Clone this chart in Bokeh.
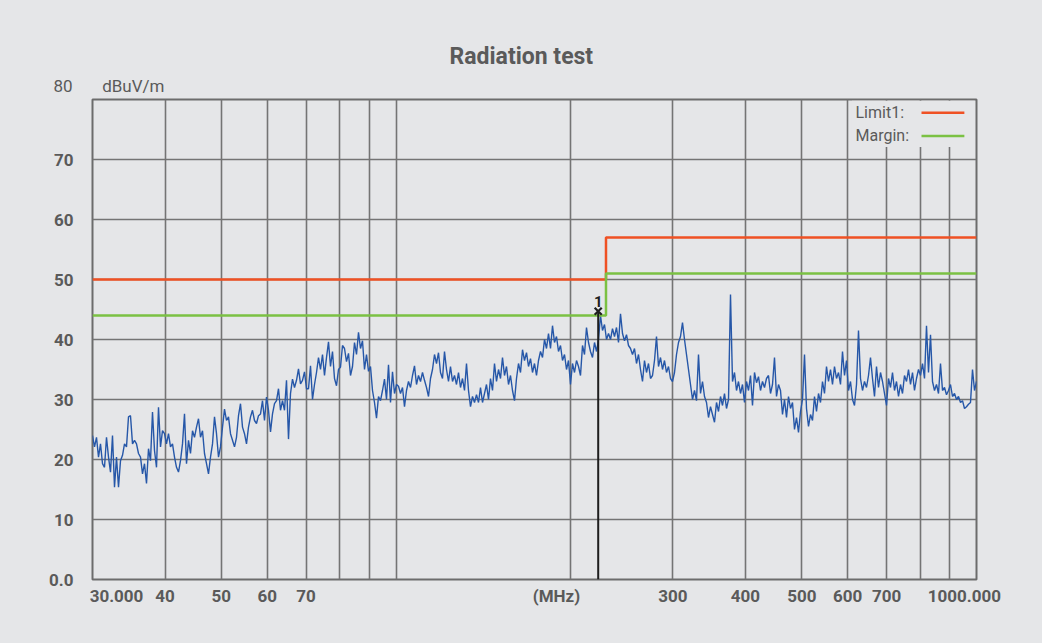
import numpy as np
from bokeh.plotting import figure
from bokeh.models import Range1d, FixedTicker, Label, BoxAnnotation, GlobalInlineStyleSheet, Title
from bokeh.core.properties import value
from bokeh.embed import file_html
from bokeh.resources import INLINE

# ---------------- data ----------------
# measured level, dBuV/m, sweep 30 MHz .. 1000 MHz (log-spaced points)
level_30_100 = [
    24.0, 22.1, 23.7, 20.4, 22.6, 19.3, 18.7, 23.7, 20.4, 17.9, 24.0, 15.4, 20.4, 15.4, 19.8, 20.7, 22.6, 22.1,
    27.1, 27.3, 22.6, 23.2, 22.6, 21.0, 20.4, 17.6, 19.3, 16.0, 21.8, 19.8, 27.9, 21.5, 18.7, 28.7, 22.1, 24.8,
    24.3, 22.6, 24.3, 22.1, 22.6, 20.4, 18.7, 17.9, 19.8, 22.6, 27.6, 19.3, 23.2, 21.0, 24.8, 23.7, 25.4, 26.8,
    23.7, 24.8, 21.0, 19.3, 17.6, 20.4, 22.6, 27.1, 24.3, 20.4,
    22.1, 25.4, 28.4, 26.5, 27.1, 24.3, 23.2, 22.1, 23.7, 27.3, 29.3, 25.4, 24.3, 22.6, 25.4, 27.1, 28.2, 26.5,
    26.0, 27.3, 27.6, 29.8, 26.5, 30.4,
    28.2, 24.6, 27.6, 29.3, 29.8, 31.8, 28.2, 29.8, 28.2, 33.2, 23.4, 31.0, 33.4, 32.0, 33.2, 35.1, 32.6, 33.2,
    34.6, 31.8,
    31.8, 35.6, 30.0, 32.5, 34.5, 37.0, 35.0, 37.5, 34.0, 37.0, 39.6, 35.5, 38.0, 33.5, 32.3, 35.0,
    35.4, 39.0, 38.5, 36.3, 37.7, 34.0, 35.5, 39.5, 37.5, 41.2, 38.5, 39.8, 35.0, 37.5, 34.7,
    35.5, 31.5, 29.5, 26.9, 30.5, 29.8, 31.5, 33.4, 30.0, 35.8, 29.5, 34.6, 31.0, 32.5,
]
level_100_300 = [
    32.2, 31.0, 32.0, 28.8, 31.5, 33.0, 32.0, 34.0, 35.6, 32.5, 34.0, 33.0, 34.5, 33.2, 32.0, 30.5, 33.5, 35.0,
    37.5, 36.0, 37.8, 34.5, 33.5, 38.0, 35.0, 33.0, 35.5, 33.0, 34.0, 32.5, 34.5, 32.0, 33.5, 31.5, 36.0, 31.5,
    28.8, 30.5, 29.5, 30.8, 29.5, 32.0, 29.5, 31.0, 32.5, 30.0, 33.5, 31.5, 36.0, 33.0, 35.0, 33.5, 37.0, 34.0,
    35.5, 32.5, 34.0, 31.5, 29.8, 33.5, 36.0, 34.5, 38.3, 36.5, 37.8, 35.5, 36.8, 34.5, 36.0, 34.0,
    36.5, 38.0, 37.0, 40.0, 38.5, 41.0, 38.5, 42.3, 39.5, 40.5, 38.0, 39.0, 36.5, 37.5, 35.0, 36.5, 32.5,
    36.0, 34.5, 36.5, 35.5, 34.0, 39.0, 37.5, 42.0, 39.5, 38.0, 37.0, 39.5, 38.0, 40.0, 44.0, 41.5, 42.5, 40.0,
    41.0, 40.0, 41.8, 40.5, 42.0, 39.5, 44.3, 41.0, 39.8, 40.8, 39.0, 38.5, 37.5, 38.5, 36.0, 37.5, 35.0, 33.0,
    36.5, 34.5, 36.0, 33.5, 34.0, 36.5, 40.5, 35.5, 37.0, 35.0, 36.5, 34.5, 35.5, 33.5, 33.0,
]
level_300_1000 = [
    34.5, 37.5, 39.5, 40.5, 42.8, 40.0, 37.5, 35.0, 32.5, 30.0, 31.5, 29.8, 37.5, 31.0, 33.0, 30.5, 29.5, 27.0,
    28.8, 27.5, 26.2, 29.5, 28.0, 30.5, 29.0, 31.0, 28.5, 30.0, 47.5, 33.0, 34.5, 31.5, 33.0, 31.0, 32.5, 29.5,
    33.0, 31.5, 34.0, 29.0, 34.5, 32.8, 33.8, 31.5, 33.0, 32.0, 33.5, 34.0, 31.0, 32.5, 37.0, 30.5, 32.5, 31.5,
    27.5, 30.0, 27.0, 30.5, 28.5, 29.5, 25.0, 27.0, 24.5, 28.0,
    30.0, 37.5, 28.5, 25.5, 27.5, 26.5, 30.5, 28.0, 31.0, 29.5, 33.0, 31.0, 35.5, 33.0, 35.0, 32.5, 35.5, 33.5,
    34.5, 32.5, 38.0, 34.0, 36.5,
    31.5, 33.0, 30.0, 29.0, 32.5, 41.5, 33.5, 31.5, 33.0, 32.0, 34.0, 37.0, 33.5, 30.5, 35.5, 32.0, 34.5, 33.0,
    31.0,
    29.0, 33.5, 32.0, 34.5, 31.5, 33.0, 30.5, 32.5, 31.0, 34.0, 33.0, 35.0, 32.5, 34.5, 31.5, 33.5, 35.0,
    34.0, 36.0, 33.5, 42.3, 34.5, 40.8, 33.0, 31.5, 32.5, 31.0, 36.0, 31.5, 32.0, 30.8, 31.5,
    32.5, 30.5, 31.0, 30.0, 30.5, 29.5, 29.8, 28.5, 28.8, 29.2, 29.5, 35.0, 31.5, 33.0,
]
level = level_30_100 + level_100_300 + level_300_1000
freq_start, freq_stop = 30, 1000
freq = np.geomspace(freq_start, freq_stop, len(level))

limit_freq = [30, 230, 230, 1000]
limit_level = [50, 50, 57, 57]
margin_freq = [30, 230, 230, 1000]
margin_level = [44, 44, 51, 51]

marker_freq = 223
marker_level = 44.7
marker_name = "1"

y_ticks = [0, 10, 20, 30, 40, 50, 60, 70]
y_tick_labels = ["0.0", "10", "20", "30", "40", "50", "60", "70"]
y_top_label = "80"
y_unit = "dBuV/m"
x_tick_pos = [33, 40, 50, 60, 70, 189, 300, 400, 500, 600, 700, 953]
x_tick_labels = ["30.000", "40", "50", "60", "70", "(MHz)", "300", "400", "500", "600", "700", "1000.000"]
x_grid = [40, 50, 60, 70, 80, 90, 100, 200, 300, 400, 500, 600, 700, 800, 900]
y_grid = [10, 20, 30, 40, 50, 60, 70]

# ---------------- style ----------------
BG = "#e5e6e8"
GRID = "#747474"
TXT = "#5a5a5a"
BLUE = "#2657a8"
RED = "#ef5124"
GREEN = "#7bc143"
FONT = "Roboto"

p = figure(width=1042, height=643, x_axis_type="log", title=None,
           x_range=Range1d(freq_start, freq_stop), y_range=Range1d(0, 80),
           output_backend="svg", toolbar_location=None,
           min_border_left=92, min_border_right=66, min_border_top=99, min_border_bottom=64,
           background_fill_color=BG, border_fill_color=BG)
p.stylesheets = [GlobalInlineStyleSheet(css="html, body { background: #e5e6e8; }")]

p.outline_line_color = "#6c6c6c"
p.outline_line_width = 2

unit_title = Title(text=y_top_label + "\u00a0" * 7 + y_unit, align="left", offset=-39, standoff=8,
                   text_font=FONT, text_font_size="17px", text_font_style="normal", text_color=TXT)
main_title = Title(text="Radiation test", align="left", offset=357, standoff=-1,
                   text_font=FONT, text_font_size="23px", text_font_style="bold", text_color=TXT)
p.add_layout(unit_title, "above")
p.add_layout(main_title, "above")

for ax in (p.xaxis, p.yaxis):
    ax.axis_line_color = None
    ax.major_tick_line_color = None
    ax.minor_tick_line_color = None
    ax.major_tick_out = 0
    ax.major_tick_in = 0
    ax.major_label_text_font = FONT
    ax.major_label_text_font_size = "17px"
    ax.major_label_text_font_style = "bold"
    ax.major_label_text_color = TXT

p.xaxis.ticker = FixedTicker(ticks=x_tick_pos)
p.xaxis.major_label_overrides = dict(zip(x_tick_pos, x_tick_labels))
p.xaxis.major_label_standoff = 6
p.yaxis.ticker = FixedTicker(ticks=y_ticks)
p.yaxis.major_label_overrides = dict(zip(y_ticks, y_tick_labels))
p.yaxis.major_label_standoff = 19

p.xgrid.ticker = FixedTicker(ticks=x_grid)
p.ygrid.ticker = FixedTicker(ticks=y_grid)
for g in (p.xgrid, p.ygrid):
    g.grid_line_color = GRID
    g.grid_line_width = 1.6

# legend background hiding the grid
p.add_layout(BoxAnnotation(left=610, right=993, bottom=72.1, top=79.8, fill_color=BG, fill_alpha=1,
                           line_color=None, level="underlay"))

# data
p.line(freq, level, line_color=BLUE, line_width=1.4)
p.line(limit_freq, limit_level, line_color=RED, line_width=2.5)
p.line(margin_freq, margin_level, line_color=GREEN, line_width=2.5)

# marker
p.segment(x0=[marker_freq], y0=[0], x1=[marker_freq], y1=[marker_level], line_color="#1e1e1e", line_width=2)
p.scatter([marker_freq], [marker_level], marker="x", size=10, line_width=2.2, line_color="#1e1e1e")
p.text(x=[marker_freq], y=[marker_level], text=[marker_name], text_align="center", text_baseline="alphabetic",
       y_offset=-10, text_font=value(FONT), text_font_style="bold", text_font_size="15px", text_color="#1e1e1e")

# legend (label then line swatch)
p.add_layout(Label(x=1000, y=80, x_offset=-121, y_offset=-13, text="Limit1:", text_align="left",
                   text_baseline="middle", text_font=FONT, text_font_size="16px", text_color=TXT))
p.add_layout(Label(x=1000, y=80, x_offset=-121, y_offset=-36, text="Margin:", text_align="left",
                   text_baseline="middle", text_font=FONT, text_font_size="16px", text_color=TXT))
p.segment(x0=[804], y0=[77.8], x1=[953], y1=[77.8], line_color=RED, line_width=2.5)
p.segment(x0=[804], y0=[73.9], x1=[953], y1=[73.9], line_color=GREEN, line_width=2.5)

open("out.html", "w").write(file_html(p, INLINE))
